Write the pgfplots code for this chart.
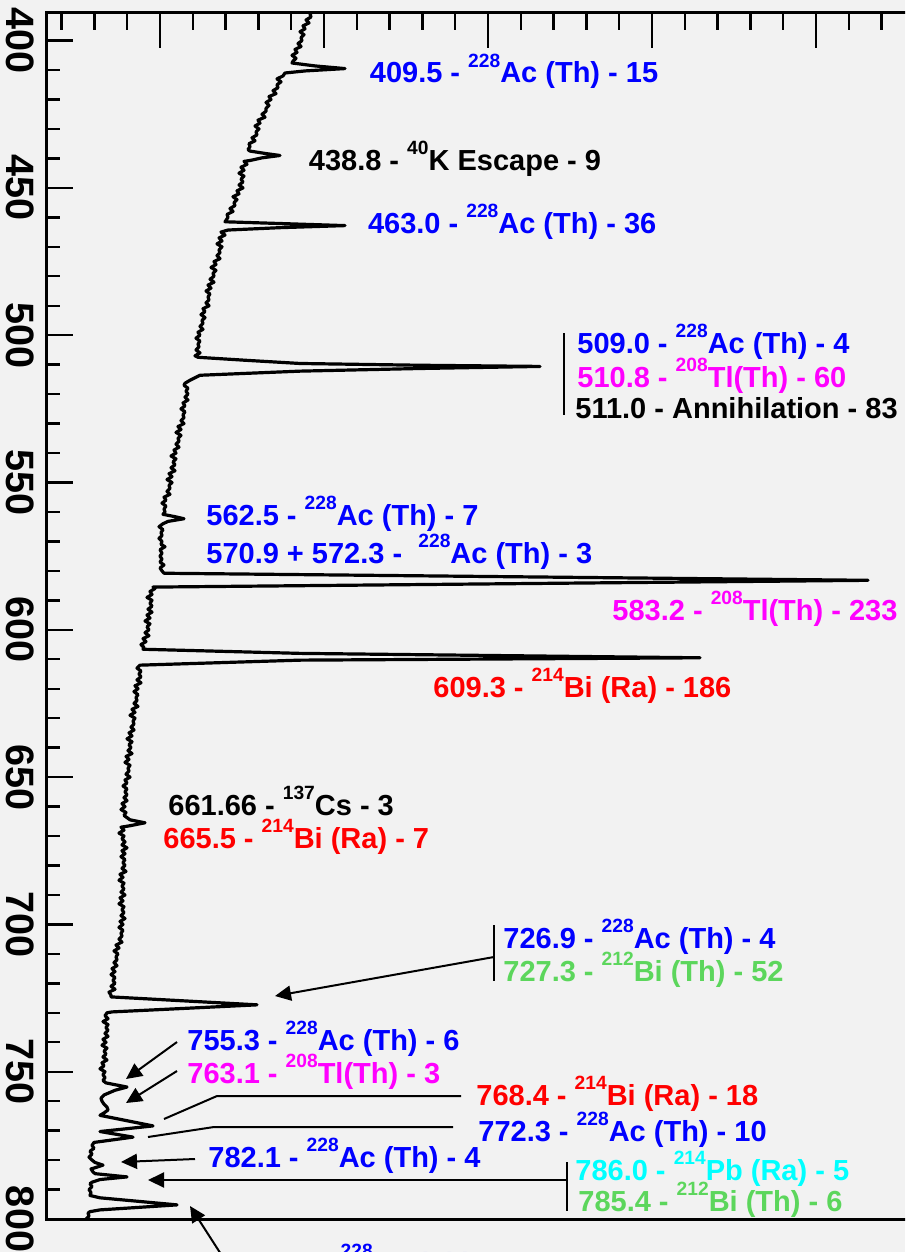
\documentclass[border=0pt]{standalone}
\usepackage{pgfplots}
\pgfplotsset{compat=1.18}
\usepackage{fontspec}
\setmainfont{Liberation Sans}
\usetikzlibrary{arrows.meta}
\definecolor{bgc}{RGB}{242,242,242}
\definecolor{cblue}{RGB}{0,0,255}
\definecolor{cmag}{RGB}{255,0,255}
\definecolor{cred}{RGB}{255,0,0}
\definecolor{cgreen}{RGB}{92,214,92}
\definecolor{ccyan}{RGB}{0,255,255}
\newcommand{\iso}[1]{\raisebox{7.8pt}{\fontsize{9.6}{9.6}\selectfont\bfseries #1}}
\begin{document}
\begin{tikzpicture}
\path[use as bounding box] (0,0) rectangle (452.5pt,-626pt);
\fill[bgc] (0,0) rectangle (452.5pt,-626pt);
\clip (0,0) rectangle (452.5pt,-626pt);
\begin{axis}[
  at={(23.5pt,-6pt)}, anchor=north west,
  scale only axis, width=476.5pt, height=603.5pt,
  xmin=47, xmax=1000, ymin=390.3, ymax=800, y dir=reverse,
  axis line style={line width=1.5pt},
  every tick/.style={line width=1.2pt, black},
  major tick length=12.8pt, minor tick length=6.3pt,
  major x tick style={/pgfplots/major tick length=18pt},
  minor x tick style={/pgfplots/minor tick length=9pt},
  xtick={160,324,488,652,816,980},
  minor xtick={61.6,94.4,127.2,192.8,225.6,258.4,291.2,356.8,389.6,422.4,455.2,520.8,553.6,586.4,619.2,684.8,717.6,750.4,783.2,848.8,881.6,914.4,947.2},
  xticklabels={}, xtick pos=right,
  ytick={400,450,...,800}, minor y tick num=4, ytick pos=left,
  /pgf/number format/assume math mode=true,
  yticklabel style={rotate=-90, anchor=north, inner sep=0pt, font=\fontsize{19.8}{19.8}\selectfont\bfseries},
  yticklabel shift=6pt,
]
\addplot[line width=1.6pt, black, line join=round] coordinates {
(313,390) (310,391) (311,392) (306,393) (309,394) (303,395) (305,396) (300,397) (304,398) (301,399)
(302,400) (298,401) (301,402) (295,403) (297,404) (292,405) (296,406) (293,407) (292,407.6) (315,408.6) (345,409.5) (305,410.3) (285,411)
(283,412) (277,413) (281,414) (277,415) (278,416) (273,417) (276,418) (269,419) (271,420)
(266,421) (269,422) (266,423) (266,424) (262,425) (265,426) (258,427) (260,428) (255,429) (259,430)
(256,431) (257,432) (252,433) (255,434) (249,435) (250,436) (248,437) (250,437.5) (265,438.3) (280,439) (262,439.8) (250,440.7)
(244,441) (247,442) (241,443) (244,444) (239,445) (244,446) (241,447) (243,448) (239,449) (243,450)
(237,451) (239,452) (233,453) (237,454) (234,455) (235,456) (230,457) (233,458) (227,459) (228,460)
(226,461) (225,461.5) (290,462.2) (345,462.8) (280,463.5) (228,464.3) (221,465) (225,466) (219,467) (222,468) (217,469) (222,470)
(219,471) (220,472) (217,473) (220,474) (214,475) (216,476) (211,477) (216,478) (213,479) (214,480)
(210,481) (214,482) (208,483) (211,484) (206,485) (210,486) (208,487) (209,488) (206,489) (209,490)
(203,491) (205,492) (201,493) (205,494) (202,495) (203,496) (200,497) (203,498) (198,499) (200,500)
(196,501) (200,502) (198,503) (199,504) (196,505) (200,506) (195,507) (198,507.5) (245,508.5) (300,509.6) (420,510.2) (540,510.6) (420,511.3) (300,512.2) (200,513.6) (190,515.3) (185,516.3)
(184,517) (188,518) (186,519) (188,520) (185,521) (188,522) (183,523) (185,524) (181,525) (185,526) (183,527) (184,528) (181,529) (184,530)
(178,531) (181,532) (176,533) (181,534) (178,535) (179,536) (176,537) (179,538) (174,539) (176,540)
(171,541) (176,542) (173,543) (175,544) (171,545) (175,546) (169,547) (172,548) (167,549) (172,550)
(169,551) (170,552) (167,553) (170,554) (164,555) (166,556) (162,557) (166,558) (164,559) (165,560)
(163,560.8) (175,561.6) (184,562.3) (168,563.2) (163,564) (159,565) (163,566) (161,567) (162,568) (159,569) (162,570)
(161,571) (165,571.8) (160,572.8) (162,574) (160,575) (162,576) (160,577) (164,578) (160,579) (162,580) (164,580.8) (868,583.2) (153,585.5)
(155,586) (150,587) (152,588) (147,589) (152,590) (150,591) (152,592) (148,593) (152,594) (147,595) (150,596) (145,597) (150,598) (147,599) (149,600)
(145,601) (149,602) (143,603) (146,604) (141,605) (144,606) (143,606.6) (300,608) (700,609.5) (300,610.3) (140,612)
(137,613) (141,614) (139,615) (141,616) (137,617) (141,618) (135,619) (138,620)
(134,621) (138,622) (136,623) (137,624) (134,625) (138,626) (132,627) (135,628) (130,629) (135,630)
(133,631) (134,632) (131,633) (134,634) (129,635) (132,636) (127,637) (132,638) (129,639) (131,640)
(128,641) (132,642) (126,643) (129,644) (125,645) (130,646) (128,647) (129,648) (126,649) (130,650)
(125,651) (127,652) (123,653) (127,654) (125,655) (127,656) (124,657) (127,658) (122,659) (125,660)
(121,661) (126,662) (124,663) (130,664.5) (145,665.5) (130,666.5) (121,667) (124,668) (119,669) (124,670)
(122,671) (125,672) (122,673) (127,674) (122,675) (125,676) (121,677) (125,678) (123,679) (125,680)
(122,681) (126,682) (120,683) (123,684) (119,685) (124,686) (122,687) (124,688) (121,689) (125,690)
(120,691) (123,692) (119,693) (124,694) (122,695) (124,696) (121,697) (125,698) (120,699) (123,700)
(119,701) (123,702) (121,703) (122,704) (119,705) (122,706) (116,707) (119,708) (114,709) (118,710)
(116,711) (117,712) (114,713) (117,714) (112,715) (115,716) (111,717) (115,718) (113,719) (115,720)
(111,721) (115,722) (109,723) (111,724) (111,724.6) (257,727.3) (112,729.7)
(107,730) (105,731) (108,732) (103,733) (108,734) (106,735) (108,736) (105,737) (108,738) (103,739) (106,740)
(102,741) (107,742) (104,743) (106,744) (103,745) (107,746) (102,747) (104,748) (100,749) (105,750)
(103,751) (105,752) (103,753) (106,753.8) (127,755.2) (115,756.3) (104,757.9) (101,759) (102,760) (104,761) (107,762) (108,763) (104,764) (100,764.8) (153,768.4) (100,770.3) (133,772.2) (94,774)
(92,775) (94,776) (90,777) (92,778) (89,779) (92,780) (95,780.8) (103,781.7) (95,782.6) (91,783) (93,784) (95,784.6) (127,785.7) (100,786.6) (92,787.5) (90,788) (92,789) (89,790) (91,791) (90,792) (100,792.8) (177,795.2) (100,796.9) (90,797.5) (88,798) (89,799) (86,800)
};
\end{axis}
\begin{scope}[x=0.5pt,y=-0.5pt,
  lbl/.style={anchor=base west, inner sep=0pt, font=\fontsize{14.5}{14.5}\selectfont\bfseries},
  arr/.style={line width=1pt, -{Triangle[length=8pt,width=7.5pt]}},
  ln/.style={line width=1pt}]
\node[lbl,cblue] at (369.5,83) {409.5 - \iso{228}Ac (Th) - 15};
\node[lbl,black] at (308.5,170) {438.8 - \iso{40}K Escape - 9};
\node[lbl,cblue] at (367.6,233) {463.0 - \iso{228}Ac (Th) - 36};
\draw[ln] (564,333) -- (564,415);
\node[lbl,cblue] at (577,353) {509.0 - \iso{228}Ac (Th) - 4};
\node[lbl,cmag] at (577,387) {510.8 - \iso{208}Tl(Th) - 60};
\node[lbl,black] at (575,418) {511.0 - Annihilation - 83};
\node[lbl,cblue] at (206,525) {562.5 - \iso{228}Ac (Th) - 7};
\node[lbl,cblue] at (206,563) {570.9 + 572.3 - \ \iso{228}Ac (Th) - 3};
\node[lbl,cmag] at (612,620) {583.2 - \iso{208}Tl(Th) - 233};
\node[lbl,cred] at (433,697) {609.3 - \iso{214}Bi (Ra) - 186};
\node[lbl,black] at (168,815) {661.66 - \iso{137}Cs - 3};
\node[lbl,cred] at (163,848) {665.5 - \iso{214}Bi (Ra) - 7};
\draw[ln] (494,925) -- (494,981);
\node[lbl,cblue] at (503,948) {726.9 - \iso{228}Ac (Th) - 4};
\node[lbl,cgreen] at (503,981) {727.3 - \iso{212}Bi (Th) - 52};
\draw[arr] (494,957) -- (275,996);
\node[lbl,cblue] at (187,1050) {755.3 - \iso{228}Ac (Th) - 6};
\node[lbl,cmag] at (187,1083) {763.1 - \iso{208}Tl(Th) - 3};
\draw[arr] (177,1042) -- (126,1079);
\draw[arr] (177,1071) -- (126,1103);
\node[lbl,cred] at (476,1105) {768.4 - \iso{214}Bi (Ra) - 18};
\draw[ln] (461,1096) -- (217,1096) -- (164,1119);
\node[lbl,cblue] at (478,1141) {772.3 - \iso{228}Ac (Th) - 10};
\draw[ln] (453,1127) -- (214,1127) -- (148,1137);
\node[lbl,cblue] at (208,1167) {782.1 - \iso{228}Ac (Th) - 4};
\draw[arr] (195,1159) -- (121,1162);
\draw[ln] (567,1162) -- (567,1211);
\node[lbl,ccyan] at (575,1180) {786.0 - \iso{214}Pb (Ra) - 5};
\node[lbl,cgreen] at (578,1211) {785.4 - \iso{212}Bi (Th) - 6};
\draw[arr] (567,1180) -- (148,1180);
\draw[arr] (226,1262) -- (190,1206);
\node[lbl,cblue] at (242,1273) {795.0 - \iso{228}Ac (Th) - 9};
\end{scope}
\end{tikzpicture}
\end{document}
